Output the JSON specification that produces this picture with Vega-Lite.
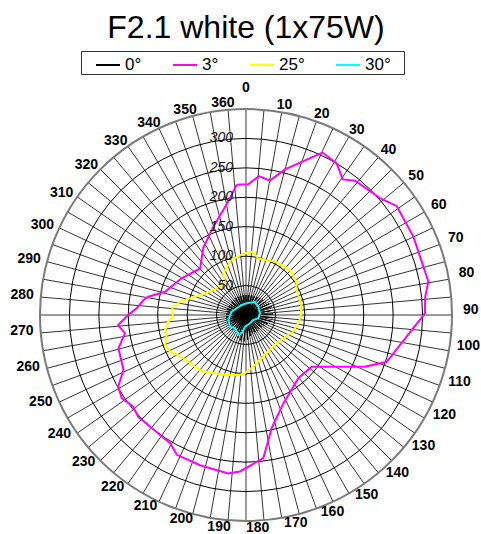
{
  "$schema": "https://vega.github.io/schema/vega-lite/v6.json",
  "width": 412,
  "height": 412,
  "autosize": {"type": "none"},
  "padding": {"left": 40, "top": 109, "right": 29, "bottom": 13},
  "background": "white",
  "title": {"text": "F2.1 white (1x75W)", "font": "Liberation Sans", "fontSize": 32, "fontWeight": "normal", "color": "black", "anchor": "middle", "offset": 6},
  "config": {"view": {"stroke": null}},
  "datasets": {
    "spokes": [
      {"a":0},{"a":5},{"a":10},{"a":15},{"a":20},{"a":25},{"a":30},{"a":35},{"a":40},{"a":45},{"a":50},{"a":55},
      {"a":60},{"a":65},{"a":70},{"a":75},{"a":80},{"a":85},{"a":90},{"a":95},{"a":100},{"a":105},{"a":110},{"a":115},
      {"a":120},{"a":125},{"a":130},{"a":135},{"a":140},{"a":145},{"a":150},{"a":155},{"a":160},{"a":165},{"a":170},{"a":175},
      {"a":180},{"a":185},{"a":190},{"a":195},{"a":200},{"a":205},{"a":210},{"a":215},{"a":220},{"a":225},{"a":230},{"a":235},
      {"a":240},{"a":245},{"a":250},{"a":255},{"a":260},{"a":265},{"a":270},{"a":275},{"a":280},{"a":285},{"a":290},{"a":295},
      {"a":300},{"a":305},{"a":310},{"a":315},{"a":320},{"a":325},{"a":330},{"a":335},{"a":340},{"a":345},{"a":350},{"a":355}
    ],
    "rings": [{"r":50},{"r":100},{"r":150},{"r":200},{"r":250},{"r":300},{"r":350}],
    "ringlabels": [{"r":50},{"r":100},{"r":150},{"r":200},{"r":250},{"r":300}],
    "anglelabels": [
      {"a":0},{"a":10},{"a":20},{"a":30},{"a":40},{"a":50},{"a":60},{"a":70},{"a":80},{"a":90},
      {"a":100},{"a":110},{"a":120},{"a":130},{"a":140},{"a":150},{"a":160},{"a":170},{"a":180},{"a":190},
      {"a":200},{"a":210},{"a":220},{"a":230},{"a":240},{"a":250},{"a":260},{"a":270},{"a":280},{"a":290},
      {"a":300},{"a":310},{"a":320},{"a":330},{"a":340},{"a":350},{"a":360}
    ],
    "series": [
      {"s":"0°","a":0,"v":34},{"s":"0°","a":4,"v":5},{"s":"0°","a":8,"v":34.5},{"s":"0°","a":12,"v":4},
      {"s":"0°","a":16,"v":35},{"s":"0°","a":20,"v":6},{"s":"0°","a":24,"v":35},{"s":"0°","a":28,"v":3},
      {"s":"0°","a":32,"v":36},{"s":"0°","a":36,"v":5},{"s":"0°","a":40,"v":37.5},{"s":"0°","a":44,"v":4},
      {"s":"0°","a":48,"v":39},{"s":"0°","a":52,"v":6},{"s":"0°","a":56,"v":41},{"s":"0°","a":60,"v":3},
      {"s":"0°","a":64,"v":44},{"s":"0°","a":68,"v":5},{"s":"0°","a":72,"v":46},{"s":"0°","a":76,"v":4},
      {"s":"0°","a":80,"v":46},{"s":"0°","a":84,"v":7},{"s":"0°","a":88,"v":46.5},{"s":"0°","a":92,"v":3},
      {"s":"0°","a":96,"v":46.5},{"s":"0°","a":100,"v":5},{"s":"0°","a":104,"v":46},{"s":"0°","a":108,"v":4},
      {"s":"0°","a":112,"v":40},{"s":"0°","a":116,"v":6},{"s":"0°","a":120,"v":36},{"s":"0°","a":124,"v":3},
      {"s":"0°","a":128,"v":34},{"s":"0°","a":132,"v":5},{"s":"0°","a":136,"v":33},{"s":"0°","a":140,"v":4},
      {"s":"0°","a":144,"v":33},{"s":"0°","a":148,"v":6},{"s":"0°","a":152,"v":33},{"s":"0°","a":156,"v":3},
      {"s":"0°","a":160,"v":33},{"s":"0°","a":164,"v":5},{"s":"0°","a":168,"v":36},{"s":"0°","a":172,"v":4},
      {"s":"0°","a":176,"v":42},{"s":"0°","a":180,"v":6},{"s":"0°","a":184,"v":45},{"s":"0°","a":188,"v":3},
      {"s":"0°","a":192,"v":44},{"s":"0°","a":196,"v":5},{"s":"0°","a":200,"v":41},{"s":"0°","a":204,"v":4},
      {"s":"0°","a":208,"v":33},{"s":"0°","a":212,"v":6},{"s":"0°","a":216,"v":31},{"s":"0°","a":220,"v":3},
      {"s":"0°","a":224,"v":36},{"s":"0°","a":228,"v":5},{"s":"0°","a":232,"v":36},{"s":"0°","a":236,"v":4},
      {"s":"0°","a":240,"v":35},{"s":"0°","a":244,"v":6},{"s":"0°","a":248,"v":34},{"s":"0°","a":252,"v":3},
      {"s":"0°","a":256,"v":34},{"s":"0°","a":260,"v":5},{"s":"0°","a":264,"v":34},{"s":"0°","a":268,"v":4},
      {"s":"0°","a":272,"v":34},{"s":"0°","a":276,"v":6},{"s":"0°","a":280,"v":34},{"s":"0°","a":284,"v":3},
      {"s":"0°","a":288,"v":34},{"s":"0°","a":292,"v":5},{"s":"0°","a":296,"v":33},{"s":"0°","a":300,"v":4},
      {"s":"0°","a":304,"v":33},{"s":"0°","a":308,"v":6},{"s":"0°","a":312,"v":33},{"s":"0°","a":316,"v":3},
      {"s":"0°","a":320,"v":33},{"s":"0°","a":324,"v":5},{"s":"0°","a":328,"v":34},{"s":"0°","a":332,"v":4},
      {"s":"0°","a":336,"v":34},{"s":"0°","a":340,"v":6},{"s":"0°","a":344,"v":34},{"s":"0°","a":348,"v":3},
      {"s":"0°","a":352,"v":34},{"s":"0°","a":356,"v":5},{"s":"0°","a":360,"v":34},

      {"s":"25°","a":352.2,"v":100},{"s":"25°","a":358.8,"v":105},{"s":"25°","a":6.3,"v":108},{"s":"25°","a":11.9,"v":98.5},
      {"s":"25°","a":18.8,"v":98.7},{"s":"25°","a":28.3,"v":103},{"s":"25°","a":35.2,"v":104},{"s":"25°","a":44.2,"v":106.5},
      {"s":"25°","a":49.6,"v":105},{"s":"25°","a":56.5,"v":102.5},{"s":"25°","a":62,"v":97},{"s":"25°","a":69,"v":94.6},
      {"s":"25°","a":78.1,"v":96},{"s":"25°","a":86.6,"v":94},{"s":"25°","a":95.3,"v":91.6},{"s":"25°","a":103.1,"v":87.7},
      {"s":"25°","a":109.6,"v":84.7},{"s":"25°","a":115.5,"v":79},{"s":"25°","a":125.3,"v":73.5},{"s":"25°","a":133,"v":70.5},
      {"s":"25°","a":142.8,"v":71},{"s":"25°","a":152,"v":73.6},{"s":"25°","a":160.5,"v":78},{"s":"25°","a":168,"v":84},
      {"s":"25°","a":174.3,"v":91},{"s":"25°","a":181.3,"v":99},{"s":"25°","a":185.7,"v":102},{"s":"25°","a":197.8,"v":107},
      {"s":"25°","a":208,"v":112},{"s":"25°","a":217,"v":120.6},{"s":"25°","a":222.8,"v":123},{"s":"25°","a":231,"v":126},
      {"s":"25°","a":239.4,"v":134},{"s":"25°","a":244.2,"v":143},{"s":"25°","a":249.7,"v":147},{"s":"25°","a":254.7,"v":140},
      {"s":"25°","a":259.5,"v":140},{"s":"25°","a":265.1,"v":132.5},{"s":"25°","a":268.7,"v":124},{"s":"25°","a":273.8,"v":127},
      {"s":"25°","a":276.5,"v":124},{"s":"25°","a":281.4,"v":114},{"s":"25°","a":286.6,"v":99},{"s":"25°","a":293.5,"v":85},
      {"s":"25°","a":302.9,"v":73},{"s":"25°","a":317.4,"v":65},{"s":"25°","a":327.8,"v":67},{"s":"25°","a":331.4,"v":81},
      {"s":"25°","a":340.5,"v":90},{"s":"25°","a":345.8,"v":99},{"s":"25°","a":352.2,"v":100},

      {"s":"3°","a":355.9,"v":222},{"s":"3°","a":1,"v":222},{"s":"3°","a":5.3,"v":237},{"s":"3°","a":10.1,"v":232},
      {"s":"3°","a":15,"v":256},{"s":"3°","a":25.2,"v":305},{"s":"3°","a":30.9,"v":300},{"s":"3°","a":35.5,"v":283},
      {"s":"3°","a":39.1,"v":294},{"s":"3°","a":48.9,"v":302},{"s":"3°","a":54.1,"v":316},{"s":"3°","a":64.9,"v":314},
      {"s":"3°","a":79.6,"v":315},{"s":"3°","a":84.2,"v":306},{"s":"3°","a":89.5,"v":304},{"s":"3°","a":108.4,"v":252},
      {"s":"3°","a":113.5,"v":220},{"s":"3°","a":128.2,"v":142},{"s":"3°","a":140.4,"v":139.5},{"s":"3°","a":157.1,"v":163},
      {"s":"3°","a":167.2,"v":197},{"s":"3°","a":173.1,"v":245},{"s":"3°","a":182.2,"v":266},{"s":"3°","a":186.4,"v":271},
      {"s":"3°","a":197,"v":267},{"s":"3°","a":206.3,"v":265},{"s":"3°","a":210.6,"v":253},{"s":"3°","a":226.6,"v":252},
      {"s":"3°","a":230.9,"v":247},{"s":"3°","a":236.2,"v":254},{"s":"3°","a":240.7,"v":249},{"s":"3°","a":245.9,"v":228},
      {"s":"3°","a":255.4,"v":224},{"s":"3°","a":261.4,"v":208},{"s":"3°","a":265.5,"v":218},{"s":"3°","a":270.8,"v":197},
      {"s":"3°","a":273.5,"v":186},{"s":"3°","a":278.3,"v":176},{"s":"3°","a":280.6,"v":169},{"s":"3°","a":286,"v":143},
      {"s":"3°","a":299.7,"v":126},{"s":"3°","a":315.4,"v":111},{"s":"3°","a":327.4,"v":135},{"s":"3°","a":339.7,"v":160},
      {"s":"3°","a":351.1,"v":195},{"s":"3°","a":355.9,"v":222},

      {"s":"30°","a":305.8,"v":19.5},{"s":"30°","a":336.7,"v":18.5},{"s":"30°","a":3.4,"v":20},{"s":"30°","a":34,"v":27},
      {"s":"30°","a":56,"v":25},{"s":"30°","a":83,"v":24},{"s":"30°","a":105,"v":21.6},{"s":"30°","a":124.4,"v":15},
      {"s":"30°","a":154,"v":15.7},{"s":"30°","a":184.9,"v":20},{"s":"30°","a":193.2,"v":32},{"s":"30°","a":201,"v":36},
      {"s":"30°","a":219.6,"v":29},{"s":"30°","a":233.8,"v":34},{"s":"30°","a":254.2,"v":31},{"s":"30°","a":270,"v":27},
      {"s":"30°","a":283,"v":25},{"s":"30°","a":305.8,"v":19.5}
    ]
  },
  "layer": [
    {
      "data": {"name": "spokes"},
      "transform": [
        {"calculate": "350*sin(datum.a*PI/180)", "as": "ex"},
        {"calculate": "350*cos(datum.a*PI/180)", "as": "ey"},
        {"calculate": "0", "as": "ox"}
      ],
      "mark": {"type": "rule", "color": "#000000", "strokeWidth": 0.8},
      "encoding": {
        "x": {"field": "ox", "type": "quantitative", "scale": {"domain": [-350, 350], "nice": false, "zero": false}, "axis": null},
        "y": {"field": "ox", "type": "quantitative", "scale": {"domain": [-350, 350], "nice": false, "zero": false}, "axis": null},
        "x2": {"field": "ex"},
        "y2": {"field": "ey"}
      }
    },
    {
      "data": {"name": "rings"},
      "transform": [{"calculate": "0", "as": "ox"}],
      "mark": {"type": "point", "shape": "circle", "filled": false, "opacity": 1},
      "encoding": {
        "x": {"field": "ox", "type": "quantitative"},
        "y": {"field": "ox", "type": "quantitative"},
        "size": {"field": "r", "type": "quantitative", "scale": {"type": "pow", "exponent": 2, "domain": [0, 350], "range": [0, 169744], "zero": true, "nice": false}, "legend": null},
        "stroke": {"condition": {"test": "datum.r == 350", "value": "#7a7a7a"}, "value": "#000000"},
        "strokeWidth": {"condition": {"test": "datum.r == 350", "value": 2}, "value": 1}
      }
    },
    {
      "data": {"name": "series"},
      "transform": [
        {"calculate": "datum.v*sin(datum.a*PI/180)", "as": "px"},
        {"calculate": "datum.v*cos(datum.a*PI/180)", "as": "py"}
      ],
      "mark": {"type": "line", "interpolate": "linear"},
      "encoding": {
        "x": {"field": "px", "type": "quantitative"},
        "y": {"field": "py", "type": "quantitative"},
        "order": {"value": null},
        "color": {
          "field": "s", "type": "nominal",
          "scale": {"domain": ["0°", "3°", "25°", "30°"], "range": ["#000000", "#ff00ff", "#ffff00", "#00ffff"]},
          "legend": {
            "orient": "none", "legendX": 41, "legendY": -58, "direction": "horizontal",
            "title": "\u00a0", "titleOrient": "right", "titleFontSize": 17, "titlePadding": 12,
            "symbolType": "stroke", "symbolSize": 576, "symbolStrokeWidth": 2,
            "labelFont": "Liberation Sans", "labelFontSize": 17, "labelColor": "black", "labelOffset": 4,
            "strokeColor": "#333333", "fillColor": "white", "padding": 1, "columnPadding": 17, "symbolOffset": 13
          }
        },
        "strokeWidth": {"condition": {"test": "datum.s === '0°'", "value": 1}, "value": 2}
      }
    },
    {
      "data": {"name": "ringlabels"},
      "transform": [{"calculate": "0", "as": "ox"}],
      "mark": {"type": "text", "align": "right", "baseline": "middle", "dx": -13, "font": "Liberation Sans", "fontSize": 14, "fontStyle": "italic", "color": "#111111"},
      "encoding": {
        "x": {"field": "ox", "type": "quantitative"},
        "y": {"field": "r", "type": "quantitative"},
        "text": {"field": "r", "type": "quantitative"}
      }
    },
    {
      "data": {"name": "anglelabels"},
      "transform": [
        {"calculate": "datum.a*PI/183", "as": "t"},
        {"calculate": "382*sin(datum.t)", "as": "lx"},
        {"calculate": "datum.a == 0 ? 385 : 362*cos(datum.t)", "as": "ly"}
      ],
      "mark": {"type": "text", "align": "center", "baseline": "middle", "font": "Liberation Sans", "fontSize": 14, "fontWeight": "bold", "color": "black"},
      "encoding": {
        "x": {"field": "lx", "type": "quantitative"},
        "y": {"field": "ly", "type": "quantitative"},
        "text": {"field": "a", "type": "quantitative"}
      }
    }
  ]
}
